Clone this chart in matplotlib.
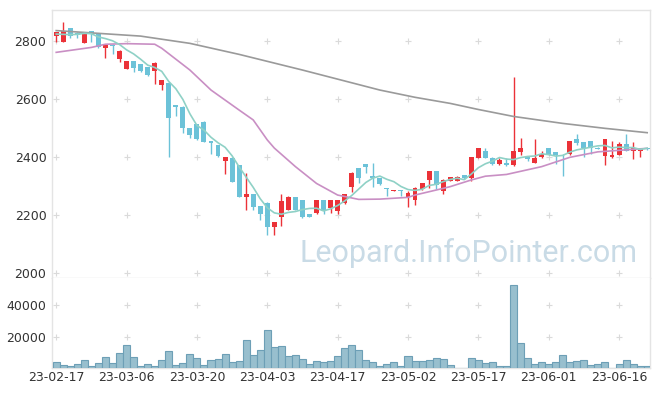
import matplotlib
matplotlib.use('Agg')
import matplotlib.pyplot as plt
import numpy as np
import pandas as pd

# daily candles (index = trading day)
opens = [2818, 2797, 2844, 2826, 2794, 2834, 2823, 2777, 2788, 2739,
         2704, 2731, 2721, 2709, 2698, 2650, 2656, 2578, 2574, 2499,
         2514, 2522, 2455, 2441, 2388, 2398, 2372, 2263, 2272, 2231,
         2242, 2160, 2194, 2217, 2261, 2252, 2203, 2206, 2252, 2223,
         2215, 2240, 2296, 2361, 2376, 2333, 2327, 2293, 2283, 2285,
         2263, 2252, 2290, 2321, 2352, 2283, 2318, 2318, 2338, 2327,
         2398, 2421, 2398, 2375, 2378, 2371, 2418, 2401, 2381, 2399,
         2430, 2417, 2408, 2409, 2462, 2451, 2455, 2432, 2403, 2399,
         2407, 2444, 2421, 2421, 2430]
highs = [2832, 2866, 2845, 2830, 2832, 2836, 2826, 2790, 2790, 2768,
         2731, 2732, 2722, 2710, 2727, 2664, 2660, 2578, 2575, 2500,
         2515, 2523, 2456, 2442, 2400, 2399, 2373, 2344, 2273, 2232,
         2245, 2175, 2271, 2264, 2262, 2253, 2204, 2253, 2253, 2253,
         2253, 2273, 2349, 2362, 2377, 2380, 2328, 2294, 2286, 2286,
         2284, 2296, 2310, 2352, 2353, 2324, 2331, 2335, 2339, 2399,
         2430, 2430, 2399, 2398, 2398, 2677, 2464, 2402, 2461, 2420,
         2431, 2418, 2409, 2456, 2478, 2452, 2456, 2433, 2462, 2455,
         2452, 2478, 2452, 2430, 2431]
lows = [2798, 2795, 2811, 2812, 2793, 2797, 2776, 2743, 2756, 2729,
        2702, 2694, 2692, 2681, 2652, 2631, 2401, 2541, 2484, 2464,
        2458, 2452, 2409, 2400, 2341, 2315, 2263, 2217, 2217, 2183,
        2131, 2131, 2162, 2216, 2216, 2190, 2192, 2205, 2203, 2208,
        2204, 2239, 2281, 2309, 2344, 2298, 2305, 2265, 2283, 2267,
        2229, 2234, 2285, 2292, 2290, 2271, 2317, 2317, 2326, 2318,
        2397, 2397, 2374, 2374, 2370, 2370, 2407, 2388, 2380, 2398,
        2406, 2376, 2333, 2408, 2440, 2401, 2412, 2428, 2372, 2398,
        2406, 2420, 2392, 2400, 2425]
closes = [2830, 2834, 2818, 2821, 2830, 2823, 2778, 2790, 2784, 2765,
          2731, 2708, 2698, 2683, 2724, 2664, 2533, 2574, 2499, 2476,
          2463, 2453, 2450, 2404, 2399, 2315, 2263, 2272, 2229, 2202,
          2160, 2175, 2248, 2261, 2217, 2194, 2194, 2252, 2215, 2252,
          2252, 2272, 2346, 2327, 2364, 2328, 2307, 2290, 2286, 2282,
          2275, 2292, 2309, 2352, 2302, 2321, 2330, 2330, 2327, 2399,
          2430, 2398, 2375, 2390, 2372, 2421, 2432, 2395, 2398, 2410,
          2407, 2407, 2406, 2455, 2449, 2430, 2430, 2429, 2462, 2407,
          2444, 2421, 2430, 2430, 2428]
volumes = [4040, 2130, 1490, 2770, 5320, 1490, 3400, 7230, 3400, 9800,
           14900, 7230, 1490, 2770, 1490, 5320, 11070, 2130, 3400, 9150,
           6600, 2130, 5320, 5960, 9150, 4040, 4680, 18100, 8500, 11700,
           24500, 13600, 14260, 7870, 8500, 5960, 2770, 4680, 4040, 4680,
           7870, 13000, 14900, 11290, 4900, 4040, 1490, 2770, 4040, 1490,
           7870, 4680, 4680, 5320, 6600, 5960, 2130, 0, 0, 6600,
           5320, 3400, 4040, 1490, 1490, 52800, 16200, 6600, 2770, 4040,
           2770, 4040, 8500, 4040, 4680, 5320, 2130, 2770, 4040, 0,
           2770, 5320, 2770, 1490, 1490]

# first values of the 5-day average (need days before the window)
ma5_start = [2824, 2823, 2822, 2823]
# 20-day and 60-day averages read at a few trading days
ma20_idx = [0, 5, 7, 10, 14, 15, 19, 22, 26, 28, 30, 31, 34, 37, 40, 43, 46,
            50, 51, 55, 56, 59, 61, 64, 69, 73, 77, 84]
ma20_val = [2761, 2778, 2789, 2791, 2789, 2775, 2700, 2631, 2562, 2528, 2459,
            2431, 2367, 2309, 2269, 2254, 2255, 2261, 2269, 2292, 2298, 2321,
            2334, 2340, 2367, 2399, 2418, 2430]
ma60_idx = [0, 12, 19, 26, 35, 46, 51, 56, 60, 65, 72, 78, 84]
ma60_val = [2836, 2817, 2792, 2754, 2700, 2631, 2606, 2585, 2564, 2540, 2516,
            2499, 2484]

tick_pos = [0, 10, 20, 30, 40, 50, 60, 70, 80]
tick_labels = ['23-02-17', '23-03-06', '23-03-20', '23-04-03', '23-04-17',
               '23-05-02', '23-05-17', '23-06-01', '23-06-16']
price_ticks = [2000, 2200, 2400, 2600, 2800]
vol_ticks = [20000, 40000]

o = np.array(opens)
h = np.array(highs)
l = np.array(lows)
c = np.array(closes)
x = np.arange(len(o))

ma5 = pd.Series(c).rolling(5).mean().values
ma5[:4] = ma5_start

up_col = '#eb3238'
down_col = '#6cc2d8'
grid_col = '#dadada'
spine_col = '#e4e4e4'
txt_col = '#333333'

fig = plt.figure(figsize=(6.57, 3.96), dpi=100)
ax = fig.add_axes([52/657, 1-278/396, 598/657, 268/396])
axv = fig.add_axes([52/657, 1-368/396, 598/657, 90/396], sharex=ax)

ax.text(0.98, 0.06, 'Leopard.InfoPointer.com', transform=ax.transAxes,
        ha='right', va='baseline', fontsize=22, color='#c9dbe6',
        family='Roboto', zorder=0)

colors = np.where(c >= o, up_col, down_col)
body_low = np.minimum(o, c)
body_h = np.maximum(np.abs(c - o), 1.5)
ax.vlines(x, l, h, colors=colors, linewidth=1, zorder=2)
ax.bar(x, body_h, bottom=body_low, width=0.7, color=colors, zorder=3)

ax.plot(ma60_idx, ma60_val, color='#9a9a9a', lw=1.2, zorder=4)
ax.plot(ma20_idx, ma20_val, color='#c98fc4', lw=1.2, zorder=4)
ax.plot(x, ma5, color='#8fd1c6', lw=1.2, zorder=4)

gx, gy = np.meshgrid(tick_pos, price_ticks)
ax.plot(gx.ravel(), gy.ravel(), '+', color=grid_col, ms=5, mew=0.8, zorder=1)

axv.bar(x, volumes, width=1.0, color='#98bfce', edgecolor='#6d9fb6',
        linewidth=0.8, zorder=3)
gx, gy = np.meshgrid(tick_pos, vol_ticks)
axv.plot(gx.ravel(), gy.ravel(), '+', color=grid_col, ms=5, mew=0.8, zorder=1)

ax.set_xlim(-0.6, 84.4)
ax.set_ylim(1983, 2907)
axv.set_ylim(0, 57500)

ax.set_yticks(price_ticks)
axv.set_yticks(vol_ticks)
axv.set_xticks(tick_pos)
axv.set_xticklabels(tick_labels)
ax.tick_params(axis='x', labelbottom=False, length=0)
ax.tick_params(axis='y', length=0, pad=4, labelsize=9, labelcolor=txt_col)
axv.tick_params(axis='both', length=0, labelsize=9, labelcolor=txt_col)
axv.tick_params(axis='y', pad=4)
axv.tick_params(axis='x', pad=2)

for a in (ax, axv):
    for s in a.spines.values():
        s.set_color(spine_col)
        s.set_linewidth(1)
axv.spines['top'].set_visible(False)

fig.savefig('out.png', dpi=100)
